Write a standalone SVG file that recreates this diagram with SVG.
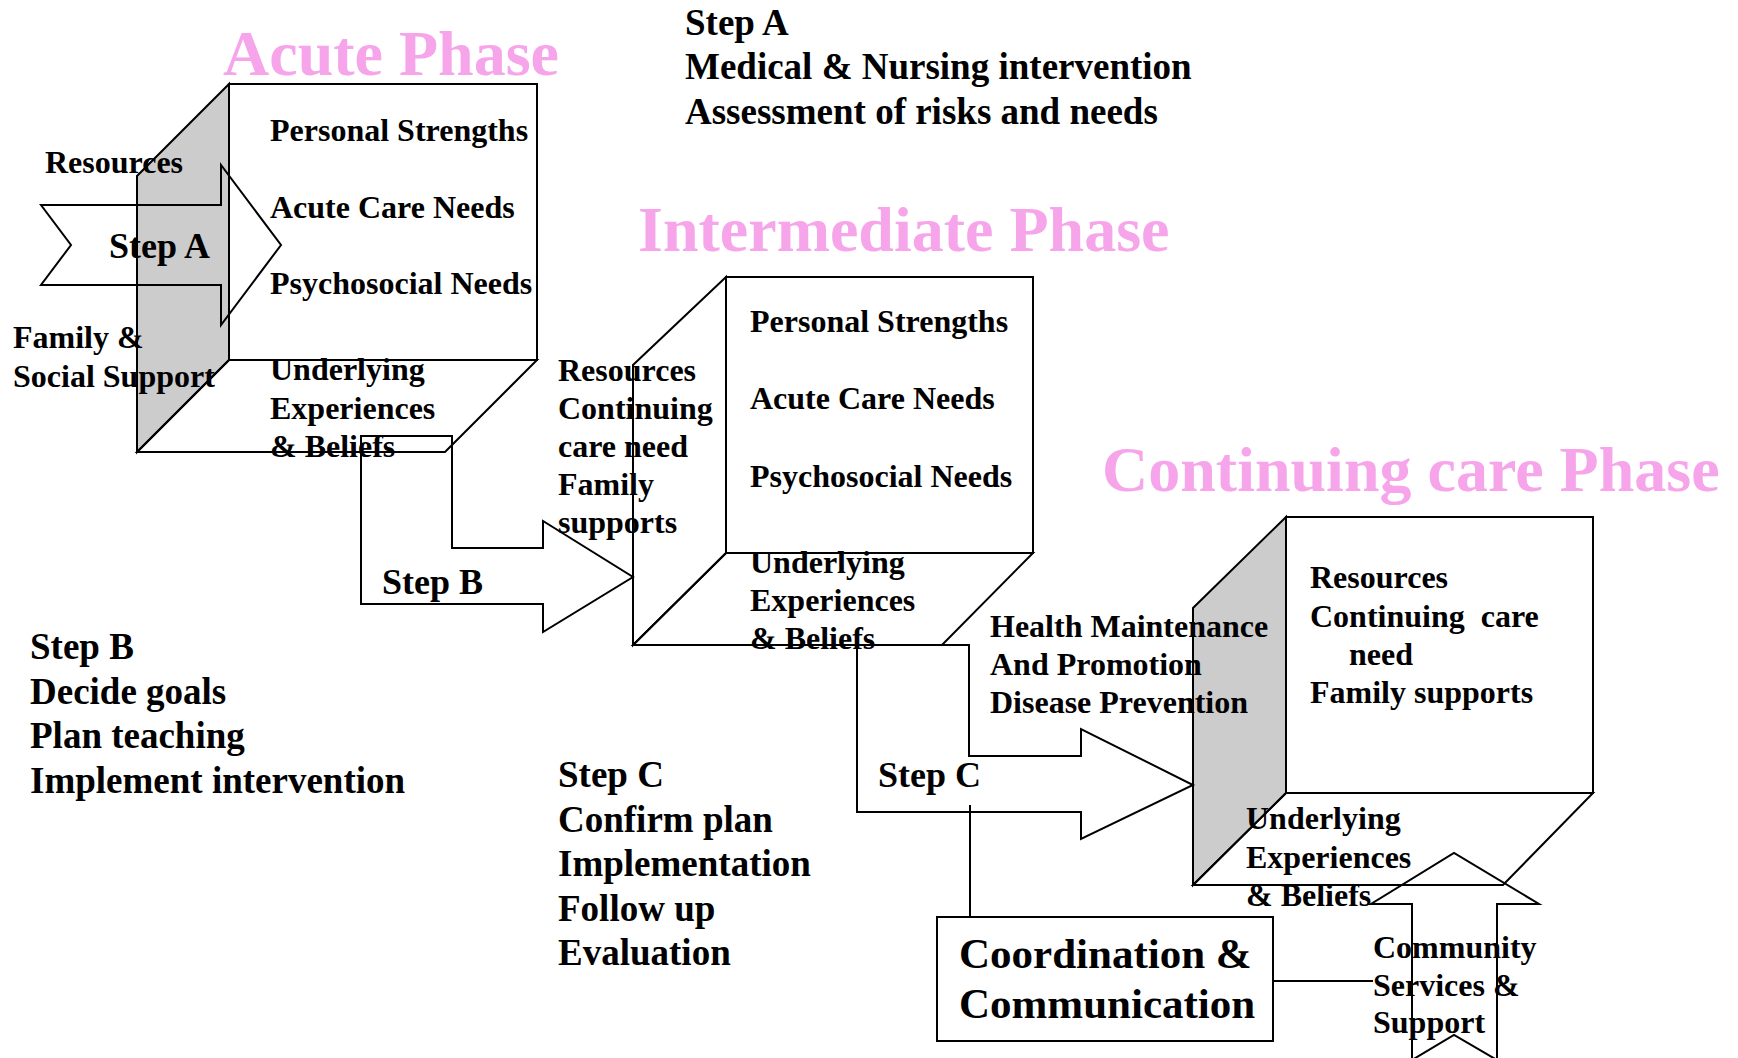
<svg xmlns="http://www.w3.org/2000/svg" width="1738" height="1058" viewBox="0 0 1738 1058">
  <style>
    .ln { fill: none; stroke: #000; stroke-width: 2; stroke-linejoin: miter; }
    .shade { fill: #cccccc; stroke: #000; stroke-width: 2; }
    .face { fill: #fff; stroke: #000; stroke-width: 2; }
    text { font-family: "Liberation Serif", "Times New Roman", serif; font-weight: bold; fill: #000; }
    .t32 { font-size: 32px; }
    .t36 { font-size: 36px; }
    .t37 { font-size: 37px; }
    .t43 { font-size: 43px; }
    .title { font-size: 64px; fill: #f6a5ea; }
  </style>

  <rect x="0" y="0" width="1738" height="1058" fill="#fff"/>

  <!-- Phase titles -->
  <g id="titles">
    <text class="title" x="223" y="75">Acute Phase</text>
    <text class="title" x="638" y="251">Intermediate Phase</text>
    <text class="title" x="1102" y="491">Continuing care Phase</text>
  </g>

  <!-- Acute phase box -->
  <g id="acute-box">
    <polygon class="shade" points="229,84 137,176 137,452 229,360"/>
    <polygon class="ln" points="229,360 537,360 445,452 137,452"/>
    <rect class="ln" x="229" y="84" width="308" height="276"/>
  </g>

  <!-- Intermediate phase box -->
  <g id="intermediate-box">
    <polygon class="face" points="726,277 633,365 633,645 726,553"/>
    <polygon class="ln" points="726,553 1033,553 942,645 633,645"/>
    <rect class="ln" x="726" y="277" width="307" height="276"/>
  </g>

  <!-- Continuing care phase box -->
  <g id="continuing-box">
    <polygon class="shade" points="1286,517 1193,608 1193,885 1286,793"/>
    <polygon class="ln" points="1286,793 1593,793 1503,885 1193,885"/>
    <rect class="ln" x="1286" y="517" width="307" height="276"/>
  </g>

  <!-- Coordination box -->
  <g id="coordination">
    <rect class="face" x="937" y="917" width="336" height="124"/>
    <text class="t43" x="959" y="968">Coordination &amp;</text>
    <text class="t43" x="959" y="1018">Communication</text>
  </g>

  <!-- Arrows and links between the phases -->
  <g id="connectors">
    <polygon id="arrow-step-a" class="ln" points="41,205 221,205 221,165 281,245 221,325 221,285 41,285 71,245"/>
    <polygon id="arrow-step-b" class="ln" points="361,436 452,436 452,548 543,548 543,521 633,577 543,632 543,604 361,604"/>
    <polygon id="arrow-step-c" class="ln" points="857,645 969,645 969,756 1081,756 1081,729 1193,785 1081,839 1081,812 857,812"/>
    <polygon id="arrow-community" class="ln" points="1412,1060 1412,904 1371,904 1454,853 1539,904 1497,904 1497,1060 1454,1035"/>
    <line class="ln" x1="970" y1="805" x2="970" y2="917"/>
    <line class="ln" x1="1273" y1="981" x2="1373" y2="981"/>
    <text class="t36" x="109" y="258">Step A</text>
    <text class="t36" x="382" y="594">Step B</text>
    <text class="t36" x="878" y="787">Step C</text>
  </g>

  <!-- Acute phase contents -->
  <g id="acute-text">
    <text class="t32" x="270" y="141">Personal Strengths</text>
    <text class="t32" x="270" y="218">Acute Care Needs</text>
    <text class="t32" x="270" y="294">Psychosocial Needs</text>
    <text class="t32" x="270" y="380">Underlying</text>
    <text class="t32" x="270" y="419">Experiences</text>
    <text class="t32" x="270" y="457">&amp; Beliefs</text>
  </g>

  <g id="acute-resources">
    <text class="t32" x="45" y="173">Resources</text>
    <text class="t32" x="13" y="348">Family &amp;</text>
    <text class="t32" x="13" y="387">Social Support</text>
  </g>

  <!-- Intermediate phase contents -->
  <g id="intermediate-text">
    <text class="t32" x="750" y="332">Personal Strengths</text>
    <text class="t32" x="750" y="409">Acute Care Needs</text>
    <text class="t32" x="750" y="487">Psychosocial Needs</text>
    <text class="t32" x="750" y="573">Underlying</text>
    <text class="t32" x="750" y="611">Experiences</text>
    <text class="t32" x="750" y="649">&amp; Beliefs</text>
  </g>

  <g id="intermediate-resources">
    <text class="t32" x="558" y="381">Resources</text>
    <text class="t32" x="558" y="419">Continuing</text>
    <text class="t32" x="558" y="457">care need</text>
    <text class="t32" x="558" y="495">Family</text>
    <text class="t32" x="558" y="533">supports</text>
  </g>

  <!-- Continuing care phase contents -->
  <g id="continuing-text">
    <text class="t32" x="1310" y="588">Resources</text>
    <text class="t32" x="1310" y="627" xml:space="preserve">Continuing  care</text>
    <text class="t32" x="1349" y="665">need</text>
    <text class="t32" x="1310" y="703">Family supports</text>
    <text class="t32" x="1246" y="829">Underlying</text>
    <text class="t32" x="1246" y="868">Experiences</text>
    <text class="t32" x="1246" y="906">&amp; Beliefs</text>
  </g>

  <g id="health-maintenance">
    <text class="t32" x="990" y="637">Health Maintenance</text>
    <text class="t32" x="990" y="675">And Promotion</text>
    <text class="t32" x="990" y="713">Disease Prevention</text>
  </g>

  <g id="community">
    <text class="t32" x="1373" y="958">Community</text>
    <text class="t32" x="1373" y="996">Services &amp;</text>
    <text class="t32" x="1373" y="1033">Support</text>
  </g>

  <!-- Step descriptions -->
  <g id="step-a-notes">
    <text class="t37" x="685" y="35">Step A</text>
    <text class="t37" x="685" y="79">Medical &amp; Nursing intervention</text>
    <text class="t37" x="685" y="124">Assessment of risks and needs</text>
  </g>

  <g id="step-b-notes">
    <text class="t37" x="30" y="659">Step B</text>
    <text class="t37" x="30" y="704">Decide goals</text>
    <text class="t37" x="30" y="748">Plan teaching</text>
    <text class="t37" x="30" y="793">Implement intervention</text>
  </g>

  <g id="step-c-notes">
    <text class="t37" x="558" y="787">Step C</text>
    <text class="t37" x="558" y="832">Confirm plan</text>
    <text class="t37" x="558" y="876">Implementation</text>
    <text class="t37" x="558" y="921">Follow up</text>
    <text class="t37" x="558" y="965">Evaluation</text>
  </g>
</svg>
